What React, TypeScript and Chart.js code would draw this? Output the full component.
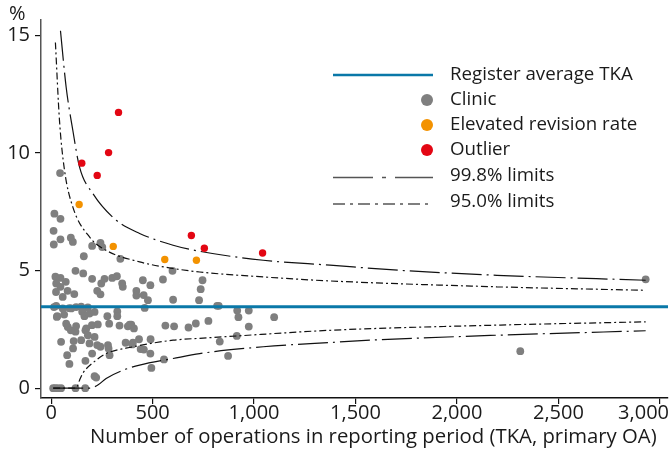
import React, { useEffect, useRef } from "react";
import { Chart, registerables } from "chart.js";

Chart.register(...registerables);

const FONT = "'Open Sans', sans-serif";

const X_MIN = -50;
const X_MAX = 3040;
const Y_MIN = -0.42;
const Y_MAX = 15.66;
const xTicks = [0, 500, 1000, 1500, 2000, 2500, 3000];
const yTicks = [0, 5, 10, 15];

const registerAverage = 3.46;

// [operations, revision rate %]
const clinics: [number, number][] = [
  [44, 9.15],
  [16, 7.42], [46, 7.2], [12, 6.69], [46, 6.33], [13, 6.11], [97, 6.4], [107, 6.22],
  [120, 4.99], [21, 4.74], [46, 4.69], [25, 4.45], [72, 4.52], [46, 4.31], [81, 4.14], [24, 4.09], [57, 3.88], [114, 4.0],
  [25, 3.5], [57, 3.39], [30, 3.06], [64, 3.13], [99, 3.39], [123, 3.45], [90, 3.4], [14, 3.45],
  [74, 2.74], [82, 2.6], [97, 2.46], [120, 2.4], [123, 2.64], [28, 3.03],
  [49, 1.97], [111, 2.0], [108, 1.69], [79, 1.4], [90, 1.03],
  [10, 0], [20, 0], [33, 0], [49, 0], [120, 0],
  [161, 5.61], [158, 4.88], [202, 6.05], [243, 6.18], [252, 6.0],
  [148, 3.47], [181, 3.43], [153, 3.25], [164, 3.06], [189, 3.17], [214, 3.24],
  [202, 4.65], [247, 4.45], [263, 4.65], [227, 4.14], [243, 3.99], [301, 4.69],
  [169, 2.46], [201, 2.68], [230, 2.71], [286, 2.74], [173, 2.54], [181, 2.25], [214, 2.18],
  [227, 1.83], [243, 1.76], [280, 1.83], [283, 1.69], [148, 2.04], [189, 1.9],
  [169, 1.16], [202, 1.47], [288, 1.4], [214, 0.51], [222, 0.45], [168, 0],
  [277, 3.06], [326, 3.26], [326, 3.06],
  [341, 5.5], [324, 4.76], [350, 4.45], [353, 4.31], [420, 4.14], [420, 3.94], [452, 4.59], [456, 3.96], [477, 3.74], [461, 3.41], [489, 4.38],
  [337, 2.66], [378, 2.63], [395, 2.7], [387, 2.7], [408, 2.54],
  [367, 1.93], [403, 1.93], [433, 2.08], [490, 2.08], [400, 1.86], [441, 1.66], [457, 1.64], [489, 1.47], [494, 0.86],
  [551, 4.62], [598, 4.99], [601, 3.76], [563, 2.66], [606, 2.63], [677, 2.58], [713, 2.75], [556, 1.22],
  [746, 4.59], [737, 4.21], [729, 3.74], [818, 3.5], [826, 3.5], [775, 2.86],
  [917, 3.3], [974, 3.3], [923, 3.02], [974, 2.62], [1099, 3.02], [831, 1.98], [915, 2.22], [872, 1.37],
  [2312, 1.57], [2930, 4.63],
];

const elevated: [number, number][] = [
  [138, 7.81], [306, 6.03], [560, 5.47], [716, 5.44],
];

const outliers: [number, number][] = [
  [332, 11.73], [283, 10.02], [151, 9.57], [227, 9.05], [691, 6.49], [755, 5.95], [1042, 5.75],
];

const upper998: [number, number][] = [
  [46, 15.2], [74, 12.8], [107, 10.96], [140, 9.4], [206, 8.27], [321, 7.14], [436, 6.58],
  [601, 6.08], [732, 5.82], [1045, 5.44], [1374, 5.23], [1720, 5.01], [2197, 4.8], [2930, 4.59],
];
const upper950: [number, number][] = [
  [21, 14.7], [41, 11.4], [66, 9.26], [107, 7.7], [189, 6.43], [271, 5.86], [436, 5.37],
  [601, 5.09], [732, 4.94], [1045, 4.73], [1374, 4.56], [2197, 4.31], [2930, 4.16],
];
const lower950: [number, number][] = [
  [10, 0], [123, 0], [140, 0.34], [156, 0.63], [222, 1.19], [271, 1.47], [400, 1.75],
  [601, 2.04], [732, 2.12], [880, 2.2], [1374, 2.46], [2197, 2.68], [2930, 2.82],
];
const lower998: [number, number][] = [
  [10, 0], [189, 0], [230, 0.13], [271, 0.41], [354, 0.76], [436, 0.98], [601, 1.26],
  [732, 1.47], [1045, 1.76], [1374, 1.94], [1572, 2.04], [2197, 2.25], [2930, 2.44],
];

const xTitle = "Number of operations in reporting period (TKA, primary OA)";
const yUnit = "%";
const legendLabels = [
  "Register average TKA",
  "Clinic",
  "Elevated revision rate",
  "Outlier",
  "99.8% limits",
  "95.0% limits",
];

const BLUE = "#0a78a8";
const GRAY = "#7f7f7f";
const ORANGE = "#f39200";
const RED = "#e30613";
const DASH_998 = [30, 5, 2, 5];
const DASH_950 = [7, 3, 2, 3];

const toXY = (arr: [number, number][]) => arr.map(([x, y]) => ({ x, y }));

function fmt(v: number): string {
  const s = String(Math.round(v));
  return s.replace(/\B(?=(\d{3})+(?!\d))/g, ",");
}

const overlayPlugin = {
  id: "overlay",
  afterDraw(chart: any) {
    const ctx = chart.ctx as CanvasRenderingContext2D;
    const xs = chart.scales.x;
    const area = chart.chartArea;
    ctx.save();
    ctx.fillStyle = "#1a1a1a";
    ctx.textBaseline = "middle";

    // x tick labels
    ctx.font = `20px ${FONT}`;
    ctx.textAlign = "left";
    xTicks.forEach((v) => {
      const label = fmt(v);
      const w = ctx.measureText(label).width;
      let left = xs.getPixelForValue(v) - w / 2;
      if (left + w > chart.width - 3) left = chart.width - 3 - w;
      ctx.fillText(label, left, area.bottom + 15);
    });

    // x axis title, fitted to the span it covers in the reference
    const titleLeft = 90;
    const titleWidth = 567;
    ctx.font = `19px ${FONT}`;
    const tw = ctx.measureText(xTitle).width;
    const size = (19 * titleWidth) / tw;
    ctx.font = `${size.toFixed(2)}px ${FONT}`;
    ctx.textAlign = "left";
    ctx.fillText(xTitle, titleLeft, area.bottom + 39);

    // y unit
    ctx.font = `20px ${FONT}`;
    ctx.fillText(yUnit, 9, 14);

    // legend
    const lx0 = 333;
    const lx1 = 433;
    const tx = 450;
    const rows = [75, 100, 125, 150, 176, 202];
    ctx.font = `18.7px ${FONT}`;
    legendLabels.forEach((t, i) => ctx.fillText(t, tx, rows[i]));

    ctx.lineCap = "butt";
    ctx.strokeStyle = BLUE;
    ctx.lineWidth = 2.5;
    ctx.beginPath();
    ctx.moveTo(lx0, rows[0]);
    ctx.lineTo(lx1, rows[0]);
    ctx.stroke();

    [GRAY, ORANGE, RED].forEach((c, i) => {
      ctx.fillStyle = c;
      ctx.beginPath();
      ctx.arc(427, rows[i + 1], 6, 0, Math.PI * 2);
      ctx.fill();
    });

    ctx.strokeStyle = "#555";
    ctx.lineWidth = 1.5;
    ctx.setLineDash([40, 9, 4, 9]);
    ctx.beginPath();
    ctx.moveTo(lx0, rows[4] + 1.5);
    ctx.lineTo(lx1, rows[4] + 1.5);
    ctx.stroke();
    ctx.setLineDash([12, 5, 3, 5]);
    ctx.beginPath();
    ctx.moveTo(lx0, rows[5] + 2);
    ctx.lineTo(lx1, rows[5] + 2);
    ctx.stroke();
    ctx.restore();
  },
};

export default function App() {
  const ref = useRef<HTMLCanvasElement | null>(null);

  useEffect(() => {
    if (!ref.current) return;
    const limitStyle = (dash: number[]) => ({
      showLine: true,
      borderColor: "#111",
      borderWidth: 1.2,
      borderDash: dash,
      pointRadius: 0,
      pointHoverRadius: 0,
      cubicInterpolationMode: "monotone" as const,
      fill: false,
    });
    const chart = new Chart(ref.current, {
      type: "scatter",
      data: {
        datasets: [
          {
            label: legendLabels[0],
            data: [
              { x: X_MIN, y: registerAverage },
              { x: X_MAX, y: registerAverage },
            ],
            showLine: true,
            borderColor: BLUE,
            borderWidth: 3,
            pointRadius: 0,
          },
          {
            label: legendLabels[3],
            data: toXY(outliers),
            backgroundColor: RED,
            borderWidth: 0,
            pointRadius: 3.7,
          },
          {
            label: legendLabels[2],
            data: toXY(elevated),
            backgroundColor: ORANGE,
            borderWidth: 0,
            pointRadius: 3.7,
          },
          { label: legendLabels[4], data: toXY(upper998), ...limitStyle(DASH_998) },
          { label: legendLabels[4], data: toXY(lower998), ...limitStyle(DASH_998) },
          { label: legendLabels[5], data: toXY(upper950), ...limitStyle(DASH_950) },
          { label: legendLabels[5], data: toXY(lower950), ...limitStyle(DASH_950) },
          {
            label: legendLabels[1],
            data: toXY(clinics),
            backgroundColor: GRAY,
            borderWidth: 0,
            pointRadius: 3.9,
          },
        ],
      },
      options: {
        responsive: false,
        animation: false,
        events: [],
        layout: { padding: { top: 20, right: 4, left: 0, bottom: 0 } },
        plugins: {
          legend: { display: false },
          tooltip: { enabled: false },
        },
        scales: {
          x: {
            type: "linear",
            min: X_MIN,
            max: X_MAX,
            afterBuildTicks: (s: any) => {
              s.ticks = xTicks.map((v) => ({ value: v }));
            },
            afterFit: (s: any) => {
              s.height = 63;
              s.paddingLeft = 0;
              s.paddingRight = 0;
            },
            ticks: { display: false },
            grid: {
              drawOnChartArea: false,
              drawTicks: true,
              tickLength: 6,
              color: "#111",
              lineWidth: 1.2,
            },
            border: { display: true, color: "#111", width: 1.5 },
          },
          y: {
            type: "linear",
            min: Y_MIN,
            max: Y_MAX,
            afterBuildTicks: (s: any) => {
              s.ticks = yTicks.map((v) => ({ value: v }));
            },
            afterFit: (s: any) => {
              s.width = 41;
              s.paddingTop = 0;
              s.paddingBottom = 0;
            },
            ticks: {
              font: { family: FONT, size: 20 },
              color: "#1a1a1a",
              padding: 5,
            },
            grid: {
              drawOnChartArea: false,
              drawTicks: true,
              tickLength: 6,
              color: "#111",
              lineWidth: 1.2,
            },
            border: { display: true, color: "#555", width: 1.5 },
          },
        },
      },
      plugins: [overlayPlugin],
    });
    return () => chart.destroy();
  }, []);

  return (
    <div style={{ position: "absolute", left: 0, top: 0, width: 672, height: 461, background: "#fff" }}>
      <canvas ref={ref} width={672} height={461} style={{ display: "block" }} />
    </div>
  );
}
